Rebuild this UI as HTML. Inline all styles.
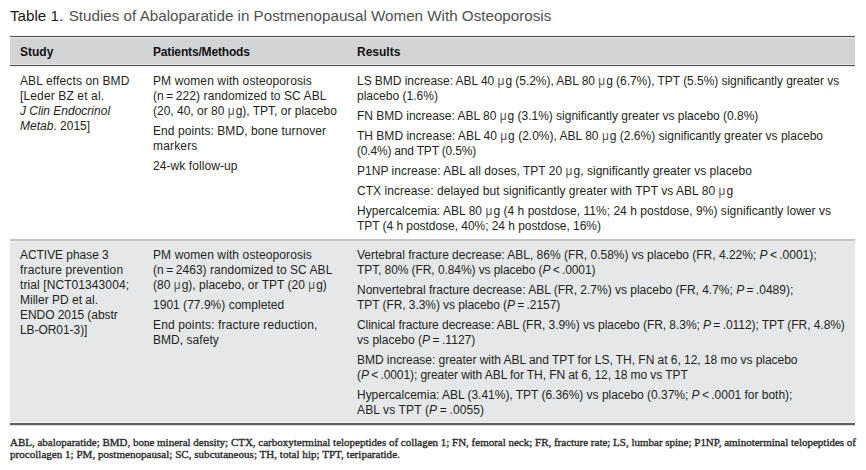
<!DOCTYPE html>
<html><head><meta charset="utf-8">
<style>
html,body{margin:0;padding:0;background:#fff;}
body{width:866px;height:470px;position:relative;overflow:hidden;font-family:"Liberation Sans",sans-serif;color:#231f20;}
.title{position:absolute;left:10px;top:6px;font-size:15.2px;line-height:20px;white-space:nowrap;}
.title b{font-weight:normal;color:#1a1a1a;}
.title span{color:#505050;}
.bg{position:absolute;left:10px;width:845px;}
.l{position:absolute;font-size:12px;line-height:15px;white-space:nowrap;}
.hd{position:absolute;font-size:12px;line-height:15px;font-weight:bold;color:#111;white-space:nowrap;}
.foot{position:absolute;left:10px;font-family:"Liberation Serif",serif;font-size:11px;line-height:12px;color:#2a2a2a;white-space:nowrap;-webkit-text-stroke:0.35px #2a2a2a;}
i{font-style:italic;}
.u{letter-spacing:1px;color:#555;}
</style></head><body>
<div class="title"><b>Table 1.</b><span style="margin-left:5.5px">Studies of Abaloparatide in Postmenopausal Women With Osteoporosis</span></div>
<div class="bg" style="top:35px;height:1px;background:#f0f0f0"></div>
<div class="bg" style="top:36px;height:1px;background:#535353"></div>
<div class="bg" style="top:37px;height:1px;background:#e4e4e5"></div>
<div class="bg" style="top:38px;height:26px;background:#d3d4d6"></div>
<div class="bg" style="top:64px;height:1px;background:#e4e4e5"></div>
<div class="bg" style="top:65px;height:1px;background:#505050"></div>
<div class="bg" style="top:66px;height:1px;background:#eeeeee"></div>
<div class="bg" style="top:239px;height:2px;background:#c4c4c4"></div>
<div class="bg" style="top:241px;height:1px;background:#eeeeee"></div>
<div class="bg" style="top:242px;height:180px;background:#e6e7e9"></div>
<div class="bg" style="top:422px;height:1px;background:#f4f4f4"></div>
<div class="bg" style="top:423px;height:2px;background:#5e5e5e"></div>
<div class="bg" style="top:425px;height:1px;background:#dddddd"></div>
<div class="hd" style="left:20px;top:45px">Study</div>
<div class="hd" style="left:153px;top:45px;letter-spacing:-0.16px">Patients/Methods</div>
<div class="hd" style="left:357px;top:45px">Results</div>
<div class="l" style="left:20px;top:74px;letter-spacing:0.118px">ABL effects on BMD</div>
<div class="l" style="left:20px;top:89px;letter-spacing:0.133px">[Leder BZ et al.</div>
<div class="l" style="left:20px;top:104px"><i>J Clin Endocrinol</i></div>
<div class="l" style="left:20px;top:119px"><i>Metab</i>. 2015]</div>
<div class="l" style="left:153px;top:74px;letter-spacing:0.112px">PM women with osteoporosis</div>
<div class="l" style="left:153px;top:89px;letter-spacing:0.076px">(n&#8201;=&#8201;222) randomized to SC ABL</div>
<div class="l" style="left:153px;top:104px">(20, 40, or 80 <span class="u">&#956;</span>g), TPT, or placebo</div>
<div class="l" style="left:153px;top:124px;letter-spacing:0.076px">End points: BMD, bone turnover</div>
<div class="l" style="left:153px;top:139px;letter-spacing:0.167px">markers</div>
<div class="l" style="left:153px;top:159px;letter-spacing:0.071px">24-wk follow-up</div>
<div class="l" style="left:357px;top:74px;letter-spacing:-0.046px">LS BMD increase: ABL 40 <span class="u">&#956;</span>g (5.2%), ABL 80 <span class="u">&#956;</span>g (6.7%), TPT (5.5%) significantly greater vs</div>
<div class="l" style="left:357px;top:89px;letter-spacing:0.015px">placebo (1.6%)</div>
<div class="l" style="left:357px;top:109px;letter-spacing:-0.014px">FN BMD increase: ABL 80 <span class="u">&#956;</span>g (3.1%) significantly greater vs placebo (0.8%)</div>
<div class="l" style="left:357px;top:129px;letter-spacing:0.010px">TH BMD increase: ABL 40 <span class="u">&#956;</span>g (2.0%), ABL 80 <span class="u">&#956;</span>g (2.6%) significantly greater vs placebo</div>
<div class="l" style="left:357px;top:144px;letter-spacing:-0.190px">(0.4%) and TPT (0.5%)</div>
<div class="l" style="left:357px;top:164px;letter-spacing:0.025px">P1NP increase: ABL all doses, TPT 20 <span class="u">&#956;</span>g, significantly greater vs placebo</div>
<div class="l" style="left:357px;top:184px;letter-spacing:0.044px">CTX increase: delayed but significantly greater with TPT vs ABL 80 <span class="u">&#956;</span>g</div>
<div class="l" style="left:357px;top:204px;letter-spacing:0.038px">Hypercalcemia: ABL 80 <span class="u">&#956;</span>g (4 h postdose, 11%; 24 h postdose, 9%) significantly lower vs</div>
<div class="l" style="left:357px;top:219px;letter-spacing:-0.048px">TPT (4 h postdose, 40%; 24 h postdose, 16%)</div>
<div class="l" style="left:20px;top:248px;letter-spacing:-0.046px">ACTIVE phase 3</div>
<div class="l" style="left:20px;top:263px;letter-spacing:0.167px">fracture prevention</div>
<div class="l" style="left:20px;top:278px;letter-spacing:0.089px">trial [NCT01343004;</div>
<div class="l" style="left:20px;top:293px">Miller PD et al.</div>
<div class="l" style="left:20px;top:308px;letter-spacing:-0.067px">ENDO 2015 (abstr</div>
<div class="l" style="left:20px;top:323px;letter-spacing:-0.060px">LB-OR01-3)]</div>
<div class="l" style="left:153px;top:248px;letter-spacing:0.112px">PM women with osteoporosis</div>
<div class="l" style="left:153px;top:263px;letter-spacing:0.047px">(n&#8201;=&#8201;2463) randomized to SC ABL</div>
<div class="l" style="left:153px;top:278px;letter-spacing:0.013px">(80 <span class="u">&#956;</span>g), placebo, or TPT (20 <span class="u">&#956;</span>g)</div>
<div class="l" style="left:153px;top:298px;letter-spacing:0.019px">1901 (77.9%) completed</div>
<div class="l" style="left:153px;top:318px;letter-spacing:0.140px">End points: fracture reduction,</div>
<div class="l" style="left:153px;top:333px;letter-spacing:0.040px">BMD, safety</div>
<div class="l" style="left:357px;top:248px;letter-spacing:-0.014px">Vertebral fracture decrease: ABL, 86% (FR, 0.58%) vs placebo (FR, 4.22%; <i>P</i>&#8201;&lt;&#8201;.0001);</div>
<div class="l" style="left:357px;top:263px;letter-spacing:-0.081px">TPT, 80% (FR, 0.84%) vs placebo (<i>P</i>&#8201;&lt;&#8201;.0001)</div>
<div class="l" style="left:357px;top:283px;letter-spacing:-0.008px">Nonvertebral fracture decrease: ABL (FR, 2.7%) vs placebo (FR, 4.7%; <i>P</i>&#8201;=&#8201;.0489);</div>
<div class="l" style="left:357px;top:298px;letter-spacing:-0.067px">TPT (FR, 3.3%) vs placebo (<i>P</i>&#8201;=&#8201;.2157)</div>
<div class="l" style="left:357px;top:318px;letter-spacing:-0.056px">Clinical fracture decrease: ABL (FR, 3.9%) vs placebo (FR, 8.3%; <i>P</i>&#8201;=&#8201;.0112); TPT (FR, 4.8%)</div>
<div class="l" style="left:357px;top:333px;letter-spacing:0.029px">vs placebo (<i>P</i>&#8201;=&#8201;.1127)</div>
<div class="l" style="left:357px;top:353px;letter-spacing:-0.033px">BMD increase: greater with ABL and TPT for LS, TH, FN at 6, 12, 18 mo vs placebo</div>
<div class="l" style="left:357px;top:368px;letter-spacing:-0.081px">(<i>P</i>&#8201;&lt;&#8201;.0001); greater with ABL for TH, FN at 6, 12, 18 mo vs TPT</div>
<div class="l" style="left:357px;top:388px;letter-spacing:-0.023px">Hypercalcemia: ABL (3.41%), TPT (6.36%) vs placebo (0.37%; <i>P</i>&#8201;&lt;&#8201;.0001 for both);</div>
<div class="l" style="left:357px;top:403px;letter-spacing:0.133px">ABL vs TPT (<i>P</i>&#8201;=&#8201;.0055)</div>
<div class="foot" style="top:436px;letter-spacing:-0.006px">ABL, abaloparatide; BMD, bone mineral density; CTX, carboxyterminal telopeptides of collagen 1; FN, femoral neck; FR, fracture rate; LS, lumbar spine; P1NP, aminoterminal telopeptides of</div>
<div class="foot" style="top:448px;letter-spacing:0.032px">procollagen 1; PM, postmenopausal; SC, subcutaneous; TH, total hip; TPT, teriparatide.</div>
</body></html>
